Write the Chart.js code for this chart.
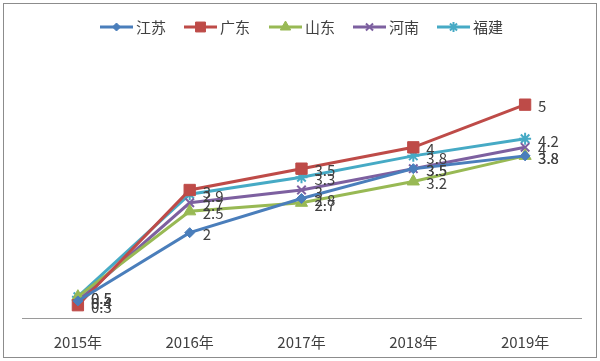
<!DOCTYPE html>
<html>
<head>
<meta charset="utf-8">
<script src="https://cdn.jsdelivr.net/npm/chart.js@4"></script>
<style>
  html,body{margin:0;padding:0;background:#fff;}
  #wrap{position:relative;width:600px;height:361px;}
</style>
</head>
<body>
<div id="wrap"><canvas id="c" width="600" height="361"></canvas></div>
<script>
// 年份 / 各省数值
const years = ['2015年','2016年','2017年','2018年','2019年'];
const jiangsu = [0.4, 2, 2.8, 3.5, 3.8];
const guangdong = [0.3, 3, 3.5, 4, 5];
const shandong = [0.5, 2.5, 2.7, 3.2, 3.8];
const henan = [0.4, 2.7, 3, 3.5, 4];
const fujian = [0.5, 2.9, 3.3, 3.8, 4.2];

const FONT = '"Noto Sans CJK SC", "DejaVu Sans", sans-serif';

function ds(label, data, color, style, r, lr){
  return {
    label, data,
    borderColor: color, backgroundColor: color,
    borderWidth: 3, pointStyle: style, pointRadius: r,
    pointBorderWidth: (style==='crossRot'||style==='star') ? 2 : 1,
    pointBorderColor: color, tension: 0,
    legendRadius: lr
  };
}

// 외곽 테두리
const framePlugin = {
  id:'frame',
  beforeDraw(chart){
    const c = chart.ctx;
    c.save();
    c.fillStyle = '#fff';
    c.fillRect(0,0,chart.width,chart.height);
    c.strokeStyle = '#8c8c8c';
    c.lineWidth = 1;
    c.strokeRect(3.5,3.5,593,354);
    c.restore();
  }
};

// 데이터 라벨 (점 오른쪽)
const labelPlugin = {
  id:'dlabels',
  afterDatasetsDraw(chart){
    const c = chart.ctx;
    c.save();
    c.font = '15px ' + FONT;
    c.fillStyle = '#404040';
    c.textBaseline = 'middle';
    chart.data.datasets.forEach((d,i)=>{
      chart.getDatasetMeta(i).data.forEach((p,j)=>{
        c.fillText(String(d.data[j]), p.x + 13, p.y + 2);
      });
    });
    c.restore();
  }
};

// 범례 (선 + 마커)
const legendPlugin = {
  id:'lineLegend',
  afterDraw(chart){
    const c = chart.ctx;
    const xs = [100, 184, 269, 353, 437];
    const y = 27;
    c.save();
    c.font = '15px ' + FONT;
    c.textBaseline = 'middle';
    chart.data.datasets.forEach((d,i)=>{
      const x = xs[i];
      c.strokeStyle = d.borderColor;
      c.lineWidth = 3;
      c.beginPath(); c.moveTo(x,y); c.lineTo(x+33,y); c.stroke();
      c.fillStyle = d.borderColor;
      c.lineWidth = d.pointBorderWidth;
      Chart.helpers.drawPoint(c, {pointStyle:d.pointStyle, radius:d.legendRadius, borderWidth:d.pointBorderWidth, rotation:0}, x+16.5, y);
      c.fillStyle = '#404040';
      c.fillText(d.label, x+36, y);
    });
    c.restore();
  }
};

new Chart(document.getElementById('c'), {
  type:'line',
  data:{
    labels: years,
    datasets:[
      ds('江苏', jiangsu, '#4A7EBB', 'rectRot', 5, 4),
      ds('广东', guangdong, '#BE4B48', 'rect', 8, 7),
      ds('山东', shandong, '#98B954', 'triangle', 7, 6),
      ds('河南', henan, '#7D60A0', 'crossRot', 6, 5),
      ds('福建', fujian, '#46AAC5', 'star', 6, 5)
    ]
  },
  options:{
    responsive:false, animation:false,
    layout:{ padding:{ top:62, left:22, right:19, bottom:-5 } },
    plugins:{ legend:{display:false}, tooltip:{enabled:false} },
    scales:{
      x:{
        offset:true,
        grid:{ display:false, drawTicks:false },
        border:{ display:true, color:'#9a9a9a', width:1 },
        ticks:{ color:'#404040', font:{ size:15, family:FONT }, padding:15 }
      },
      y:{ display:false, min:0, max:6 }
    }
  },
  plugins:[framePlugin, labelPlugin, legendPlugin]
});
</script>
</body>
</html>
